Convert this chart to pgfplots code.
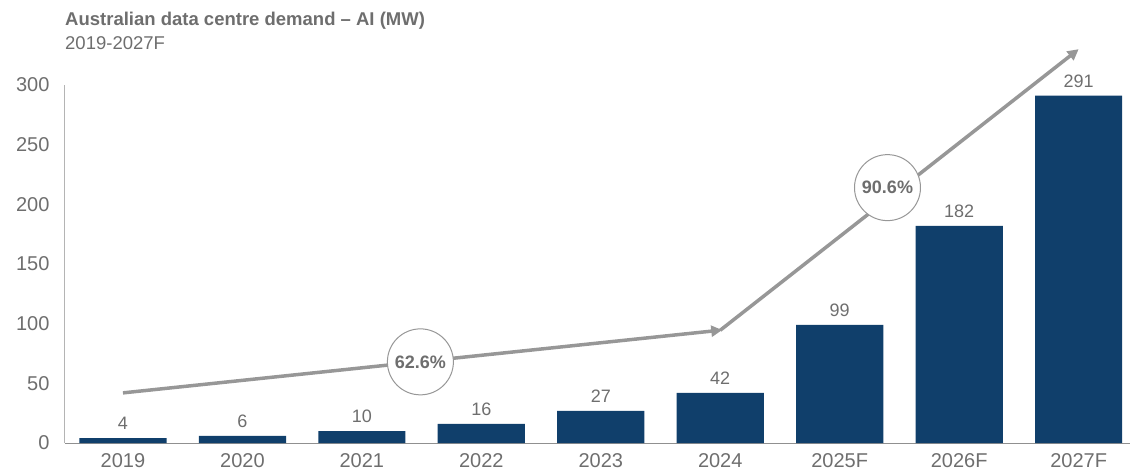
\documentclass[border=0pt]{standalone}
\usepackage{pgfplots}
\pgfplotsset{compat=1.18}
\usepackage{fontspec}
\setmainfont{Liberation Sans}
\usetikzlibrary{arrows.meta}
\definecolor{barblue}{HTML}{103F6B}
\definecolor{txtgray}{HTML}{6E6E6E}
\definecolor{arrgray}{HTML}{979797}
\definecolor{axgray}{HTML}{B4B4B4}
\begin{document}
\begin{tikzpicture}
\useasboundingbox (0,0) rectangle (1130pt,475pt);
\begin{axis}[
  at={(65pt,32pt)}, anchor=south west,
  width=1065pt, height=358pt, scale only axis,
  xmin=-0.485, xmax=8.43, ymin=0, ymax=300,
  axis x line=bottom, axis y line=left,
  axis line style={draw=axgray, line width=1pt, -},
  x axis line style={draw=axgray!80!black},
  xtick=data,
  xticklabels={2019,2020,2021,2022,2023,2024,2025F,2026F,2027F},
  ytick={0,50,...,300},
  major tick length=0pt,
  ticklabel style={font=\fontsize{20}{22}\selectfont, text=txtgray},
  yticklabel style={xshift=-12pt},
  xticklabel style={yshift=-7pt},
  /pgf/number format/assume math mode=true,
  clip=false,
  nodes near coords,
  every node near coord/.append style={font=\fontsize{18}{20}\selectfont, text=txtgray, yshift=5pt},
]
\addplot[ybar, bar width=0.73, fill=barblue, draw=none] coordinates {
(0,4) (1,6) (2,10) (3,16) (4,27) (5,42) (6,99) (7,182) (8,291)};
\draw[arrgray, line width=3.5pt, -{Triangle[length=11pt,width=11pt]}, shorten >=-2pt] (axis cs:0,42) -- (axis cs:5,94.5);
\draw[arrgray, line width=3.5pt, -{Triangle[length=11pt,width=11pt]}] (axis cs:5,94.5) -- (axis cs:8,330);
\node[circle, draw=arrgray, line width=1pt, fill=white, minimum size=66pt, inner sep=0pt, text=txtgray, font=\bfseries\fontsize{18}{20}\selectfont] at (axis cs:2.49,68) {62.6\%};
\node[circle, draw=arrgray, line width=1pt, fill=white, minimum size=66pt, inner sep=0pt, text=txtgray, font=\bfseries\fontsize{18}{20}\selectfont] at (axis cs:6.4,214) {90.6\%};
\end{axis}
\node[anchor=base west, inner sep=0pt, text=txtgray, font=\bfseries\fontsize{18.5}{20}\selectfont] at (65pt,449pt) {Australian data centre demand – AI (MW)};
\node[anchor=base west, inner sep=0pt, text=txtgray, font=\fontsize{18.5}{20}\selectfont] at (65pt,425pt) {2019-2027F};
\end{tikzpicture}
\end{document}
